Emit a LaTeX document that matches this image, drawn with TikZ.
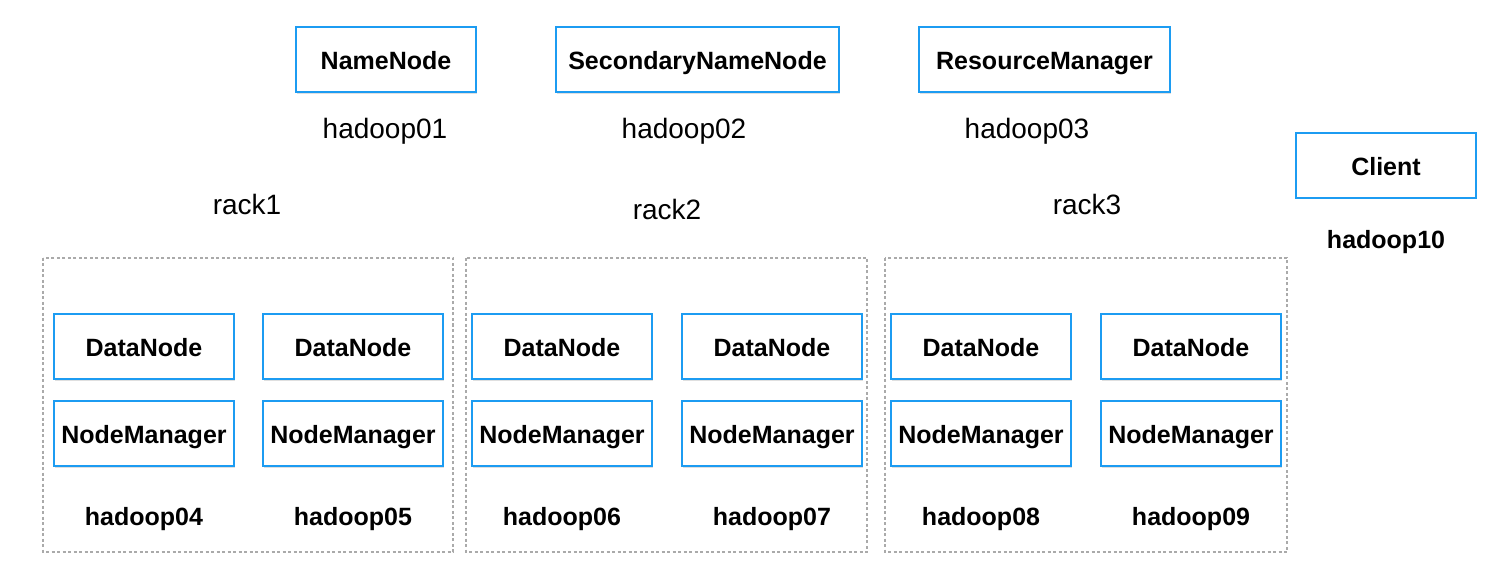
\documentclass[tikz,border=0pt]{standalone}
\usepackage{fontspec}
\setmainfont{Liberation Sans}
\usetikzlibrary{shadows}
\definecolor{boxblue}{RGB}{28,156,242}
\definecolor{rackgray}{RGB}{170,170,170}
\tikzset{
  procbox/.style={draw=boxblue, line width=2pt, fill=white, rectangle, inner sep=0pt,
    minimum width=180pt, minimum height=65pt, text height=20pt, text depth=0pt,
    font=\fontsize{25}{28}\selectfont\bfseries,
    drop shadow={opacity=0.25, shadow xshift=1pt, shadow yshift=-1.5pt}},
  hostlbl/.style={inner sep=0pt, text height=20pt, text depth=0pt, font=\fontsize{28}{32}\selectfont},
  hostbold/.style={inner sep=0pt, text height=18pt, text depth=0pt, font=\fontsize{25}{28}\selectfont\bfseries},
  rackbox/.style={draw=rackgray, line width=1.4pt, dash pattern=on 3pt off 2.5pt}
}
\begin{document}
\begin{tikzpicture}[x=1pt,y=-1pt]
\useasboundingbox[fill=white] (0,0) rectangle (1489,569);
% master nodes
\node[procbox] (nn) at (386,60) {NameNode};
\node[procbox, minimum width=283pt] (snn) at (697.5,60) {SecondaryNameNode};
\node[procbox, minimum width=251pt] (rm) at (1044.5,60) {ResourceManager};
\node[procbox] (client) at (1386,165.5) {Client};
\node[hostlbl] (h01) at (385,129) {hadoop01};
\node[hostlbl] (h02) at (684,129) {hadoop02};
\node[hostlbl] (h03) at (1027,129) {hadoop03};
\node[hostbold] (h10) at (1386,240) {hadoop10};
% rack labels
\node[hostlbl] (r1) at (247,205) {rack1};
\node[hostlbl] (r2) at (667,210) {rack2};
\node[hostlbl] (r3) at (1087,205) {rack3};
% rack boxes
\draw[rackbox] (43,258) rectangle (453,552);
\draw[rackbox] (466,258) rectangle (867,552);
\draw[rackbox] (885,258) rectangle (1287,552);
% workers
\foreach \x/\n in {144/04,353/05,562/06,772/07,981/08,1191/09}{
  \node[procbox] (dn\n) at (\x,346.5) {DataNode};
  \node[procbox] (nm\n) at (\x,433.5) {NodeManager};
  \node[hostbold] (h\n) at (\x,516) {hadoop\n};
}
\end{tikzpicture}
\end{document}
